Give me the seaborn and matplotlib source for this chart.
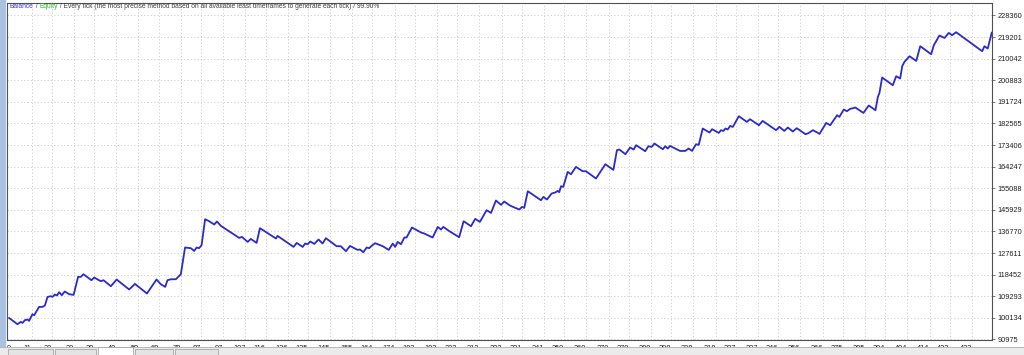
import matplotlib
matplotlib.use("Agg")
import matplotlib.pyplot as plt
import seaborn as sns
import pandas as pd
from matplotlib.patches import Rectangle
from matplotlib import font_manager

# ---------------- data ----------------
trade = [0.9, 4.7, 6.2, 7.0, 8.0, 9.2, 9.9, 11.4, 12.2, 14.4, 15.9, 17.0, 18.2, 19.7, 20.4,
         21.5, 22.4, 23.4, 24.6, 25.9, 27.9, 29.9, 31.9, 33.1, 34.3, 37.9, 39.1, 42.1, 43.3,
         46.6, 49.2, 54.8, 57.4, 62.8, 67.1, 69.0, 71.0, 72.0, 73.5, 75.8, 78.0, 79.9, 82.5,
         84.0, 85.1, 86.2, 87.3, 88.9, 90.7, 93.0, 94.2, 96.0, 104.2, 105.4, 108.0, 109.4,
         112.0, 113.5, 120.7, 121.4, 128.6, 130.0, 132.7, 133.8, 134.9, 136.1, 137.9, 139.8,
         141.6, 143.1, 147.9, 149.8, 152.1, 153.9, 157.3, 158.4, 159.9, 161.4, 162.5, 163.8,
         165.2, 168.6, 171.3, 173.1, 174.2, 175.3, 176.8, 178.3, 179.3, 181.7, 185.8, 187.2,
         191.0, 193.3, 194.7, 195.8, 198.5, 202.9, 204.9, 208.2, 210.1, 212.2, 215.2, 217.2,
         219.4, 221.7, 223.1, 225.7, 228.1, 229.9, 231.1, 232.1, 233.7, 239.6, 240.7, 242.3,
         244.4, 246.0, 247.1, 247.8, 248.6, 249.6, 251.6, 253.1, 255.3, 258.3, 259.8, 264.3,
         268.5, 272.1, 273.7, 274.8, 277.5, 279.6, 281.2, 282.3, 286.4, 287.8, 289.3, 290.5,
         294.3, 295.4, 296.5, 297.5, 302.0, 304.4, 305.9, 307.4, 309.2, 310.4, 312.2, 315.2,
         316.4, 319.4, 320.4, 321.5, 322.4, 323.4, 324.5, 325.7, 328.4, 332.0, 333.4, 337.4,
         339.1, 345.1, 346.6, 348.8, 350.4, 352.6, 354.4, 358.3, 359.6, 361.6, 363.1, 364.6,
         367.6, 369.4, 372.5, 373.5, 375.5, 376.9, 378.3, 380.7, 384.3, 386.7, 389.7, 390.8,
         391.5, 392.7, 397.5, 399.0, 400.8, 401.7, 402.7, 405.0, 408.0, 409.8, 414.7, 415.9,
         418.4, 420.7, 422.6, 424.1, 425.9, 437.6, 438.6, 440.1, 441.9]

balance = [100130, 97460, 98440, 98010, 99160, 99460, 98860, 101700, 101280, 104800, 104800,
           105390, 109040, 109330, 109040, 110060, 109630, 111030, 109760, 111330, 110180,
           109890, 117520, 117520, 118660, 116120, 117260, 115690, 116120, 113570, 116420,
           112180, 114550, 110480, 116420, 114420, 113280, 116120, 116500, 116540, 118660,
           129980, 129690, 128540, 129980, 129690, 130960, 141980, 141130, 139740, 141010,
           139140, 134050, 134480, 132360, 133630, 131930, 138170, 133800, 134900, 130240,
           131930, 130240, 131680, 131380, 132530, 131510, 133380, 131680, 133930, 130530,
           130530, 128410, 130660, 128970, 129140, 127990, 129980, 129690, 130830, 131810,
           130530, 128970, 131680, 130240, 132360, 131380, 134220, 134220, 138460, 136340,
           135920, 134220, 138720, 137620, 138720, 136890, 134350, 141130, 139010, 142110,
           140840, 145800, 144650, 149910, 148050, 149490, 147790, 146770, 146100, 147200,
           146770, 153850, 150040, 151440, 150340, 152880, 153300, 153980, 153430, 155970,
           155680, 162040, 161060, 164160, 162330, 162330, 159240, 165300, 162890, 171240,
           171540, 169540, 172380, 171540, 173360, 170810, 172930, 172640, 174080, 171660,
           172930, 171960, 173060, 170940, 170940, 171960, 170940, 173780, 173490, 180440,
           178740, 180140, 178570, 179720, 179420, 180440, 180020, 181540, 181120, 185650,
           183240, 184380, 181840, 183660, 179720, 181120, 179420, 180860, 179170, 180570,
           178020, 178450, 179720, 179000, 178150, 182810, 181840, 186080, 185360, 188500,
           187770, 188750, 189340, 187050, 190190, 188200, 193840, 195530, 202060, 198800,
           202610, 201640, 206850, 208680, 211090, 209100, 215330, 211940, 215760, 219870,
           218850, 220970, 220000, 221270, 213210, 215330, 214360, 221140]

x_tick_labels = [0, 11, 20, 30, 39, 49, 59, 68, 78, 87, 97, 107, 116, 126, 135, 145, 155, 164,
                 174, 183, 193, 202, 212, 222, 231, 241, 250, 260, 270, 279, 289, 298, 308, 318,
                 327, 337, 346, 356, 366, 375, 385, 394, 404, 414, 423, 433]

y_tick_labels = [90975, 100134, 109293, 118452, 127611, 136770, 145929, 155088, 164247,
                 173406, 182565, 191724, 200883, 210042, 219201, 228360]

title_parts = [("Balance", "#3a3ad8"), (" / ", "#404040"), ("Equity", "#2fb82f"),
               (" / Every tick (the most precise method based on all available least timeframes "
                "to generate each tick) / 99.90%", "#404040")]

# ---------------- figure ----------------
sns.set_style("white")
plt.rcParams["font.family"] = ["Liberation Sans", "DejaVu Sans"]

installed = {f.name for f in font_manager.fontManager.ttflist}
if "Liberation Sans Narrow" in installed:
    title_family = ["Liberation Sans Narrow", "Liberation Sans"]
    title_size = 5.8
else:
    title_family = ["Liberation Sans", "DejaVu Sans"]
    title_size = 4.8

W, H = 1024, 355
fig = plt.figure(figsize=(W / 100, H / 100), dpi=100)
fig.patch.set_facecolor("white")
ax = fig.add_axes([7 / W, (H - 339.5) / H, 985 / W, 337 / H])

df = pd.DataFrame({"trade": trade, "balance": balance})
sns.lineplot(data=df, x="trade", y="balance", sort=False, estimator=None,
             color="#2a2acd", linewidth=1.3, ax=ax)

ax.set_xlim(0, 442)
ax.set_ylim(90975, 233870)

ax.set_xticks(x_tick_labels)
ax.set_xticklabels([str(v) for v in x_tick_labels], fontsize=5.3, color="#202020")
for i, t in enumerate(ax.get_xticklabels()):
    t.set_ha("left" if i == 0 else "right")

ax.yaxis.tick_right()
ax.set_yticks(y_tick_labels)
ax.set_yticklabels([str(v) for v in y_tick_labels], fontsize=5.3, color="#202020")
for t in ax.get_yticklabels():
    t.set_ha("left")

ax.tick_params(axis="x", length=2.5, width=0.6, pad=1.5, color="#606060", direction="out")
ax.tick_params(axis="y", length=2.0, width=0.6, pad=2.0, color="#606060", direction="out")

ax.grid(True, which="major", color="#c9c9c9", linestyle=(0, (1.5, 2.5)), linewidth=0.6)
ax.set_axisbelow(True)
for s in ax.spines.values():
    s.set_color("#505050")
    s.set_linewidth(0.8)
ax.set_xlabel("")
ax.set_ylabel("")

# title made of coloured pieces
prev = None
for txt, col in title_parts:
    if prev is None:
        prev = fig.text(10 / W, 1 - 7 / H, txt, color=col, fontsize=title_size,
                        family=title_family, va="center", ha="left")
    else:
        prev = ax.annotate(txt, xycoords=prev, xy=(1, 0), va="bottom", ha="left",
                           color=col, fontsize=title_size, family=title_family,
                           annotation_clip=False)

# window chrome: left strip and bottom tab bar
fig.patches.append(Rectangle((0, 0), 5.5 / W, 1, transform=fig.transFigure,
                             facecolor="#aac2df", edgecolor="none", zorder=0))
fig.patches.append(Rectangle((5.5 / W, 0), 1.2 / W, 1, transform=fig.transFigure,
                             facecolor="#eef2f8", edgecolor="none", zorder=0))
fig.patches.append(Rectangle((0, 0), 1, 7 / H, transform=fig.transFigure,
                             facecolor="#ebebeb", edgecolor="none", zorder=0))
fig.patches.append(Rectangle((0, 7 / H), 1, 0.8 / H, transform=fig.transFigure,
                             facecolor="#b8b8b8", edgecolor="none", zorder=0))
for x0, x1, active in [(8, 53, False), (55, 96, False), (98, 133, True),
                       (135, 173, False), (175, 218, False)]:
    fig.patches.append(Rectangle((x0 / W, 0), (x1 - x0) / W, (8.5 if active else 6) / H,
                                 transform=fig.transFigure,
                                 facecolor="#ffffff" if active else "#e4e4e4",
                                 edgecolor="#9a9a9a", linewidth=0.5, zorder=1))

fig.savefig("out.png", dpi=100)
